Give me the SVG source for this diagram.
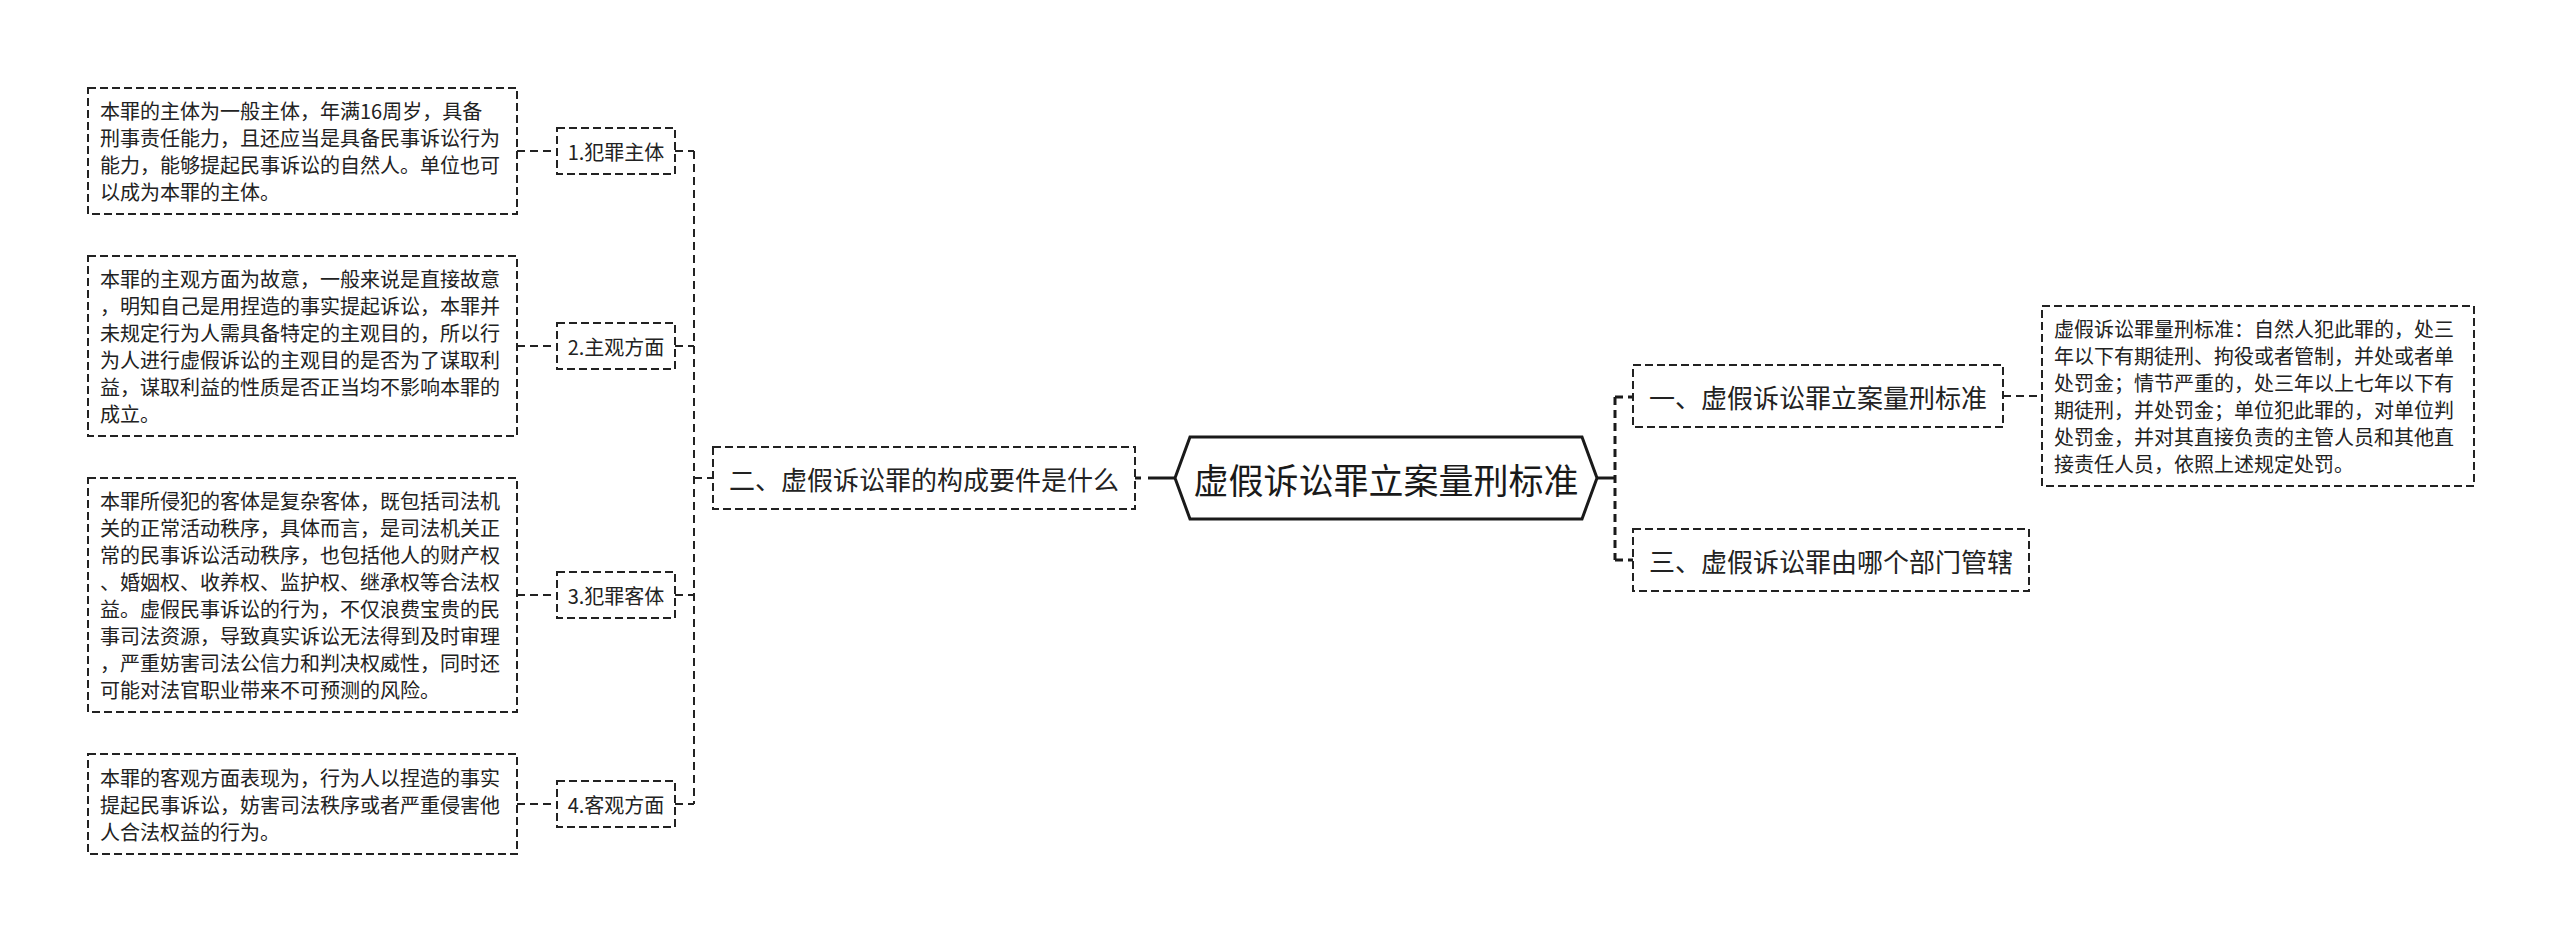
<svg xmlns="http://www.w3.org/2000/svg" width="2560" height="943" viewBox="0 0 2560 943">
<style>
  .bg { fill: #ffffff; }
  .box { fill: #ffffff; stroke: #222222; stroke-width: 2; stroke-dasharray: 8 4; }
  .root { fill: #ffffff; stroke: #1a1a1a; stroke-width: 3; stroke-linejoin: miter; }
  .t { font-family: "Microsoft YaHei", "Noto Sans CJK SC", "Noto Sans", sans-serif; fill: #222222; dominant-baseline: central; }
  .body { font-size: 20px; }
  .l2 { font-size: 20px; text-anchor: middle; }
  .l1 { font-size: 26px; text-anchor: middle; }
  .rt { font-size: 35px; text-anchor: middle; fill: #1a1a1a; }
  .c2 { fill: none; stroke: #222222; stroke-width: 2; stroke-dasharray: 8 5; }
  .c1 { fill: none; stroke: #1a1a1a; stroke-width: 3; stroke-dasharray: 8 5; }
  .c1s { fill: none; stroke: #1a1a1a; stroke-width: 3; }
</style>
<rect class="bg" x="0" y="0" width="2560" height="943"/>

<g id="connectors">
  <path class="c2" d="M517,151 H557"/>
  <path class="c2" d="M517,346 H557"/>
  <path class="c2" d="M517,595 H557"/>
  <path class="c2" d="M517,804 H557"/>
  <path class="c2" d="M675,151 H694"/>
  <path class="c2" d="M675,346 H694"/>
  <path class="c2" d="M675,595 H694"/>
  <path class="c2" d="M675,804 H694"/>
  <path class="c2" d="M694,151 V804"/>
  <path class="c2" d="M694,478 H713"/>
  <path class="c1" style="stroke-dasharray: 6 7 40" d="M1135,478 H1175"/>
  <path class="c1s" d="M1597,478 H1615"/>
  <path class="c1" d="M1615,397 V560"/>
  <path class="c1" d="M1615,397 H1633"/>
  <path class="c1" d="M1615,560 H1633"/>
  <path class="c2" d="M2003,396 H2042"/>
</g>

<g id="root">
  <polygon class="root" points="1175,478 1190,437 1582,437 1597,478 1582,519 1190,519"/>
  <text class="t rt" x="1386" y="478">虚假诉讼罪立案量刑标准</text>
</g>

<g id="n-er">
  <rect class="box" x="713" y="447" width="422" height="62"/>
  <text class="t l1" x="924" y="478">二、虚假诉讼罪的构成要件是什么</text>
</g>

<g id="n-yi">
  <rect class="box" x="1633" y="365" width="370" height="62"/>
  <text class="t l1" x="1818" y="396">一、虚假诉讼罪立案量刑标准</text>
</g>

<g id="n-san">
  <rect class="box" x="1633" y="529" width="396" height="62"/>
  <text class="t l1" x="1831" y="560">三、虚假诉讼罪由哪个部门管辖</text>
</g>

<g id="n-yi-detail">
  <rect class="box" x="2042" y="306" width="432" height="180"/>
  <text class="t body" x="2054" y="328.5">虚假诉讼罪量刑标准：自然人犯此罪的，处三</text>
  <text class="t body" x="2054" y="355.5">年以下有期徒刑、拘役或者管制，并处或者单</text>
  <text class="t body" x="2054" y="382.5">处罚金；情节严重的，处三年以上七年以下有</text>
  <text class="t body" x="2054" y="409.5">期徒刑，并处罚金；单位犯此罪的，对单位判</text>
  <text class="t body" x="2054" y="436.5">处罚金，并对其直接负责的主管人员和其他直</text>
  <text class="t body" x="2054" y="463.5">接责任人员，依照上述规定处罚。</text>
</g>

<g id="n-1">
  <rect class="box" x="557" y="128" width="118" height="46"/>
  <text class="t l2" x="616" y="151">1.犯罪主体</text>
</g>
<g id="n-1-detail">
  <rect class="box" x="88" y="88" width="429" height="126"/>
  <text class="t body" x="100" y="110.5">本罪的主体为一般主体，年满16周岁，具备</text>
  <text class="t body" x="100" y="137.5">刑事责任能力，且还应当是具备民事诉讼行为</text>
  <text class="t body" x="100" y="164.5">能力，能够提起民事诉讼的自然人。单位也可</text>
  <text class="t body" x="100" y="191.5">以成为本罪的主体。</text>
</g>

<g id="n-2">
  <rect class="box" x="557" y="323" width="118" height="46"/>
  <text class="t l2" x="616" y="346">2.主观方面</text>
</g>
<g id="n-2-detail">
  <rect class="box" x="88" y="256" width="429" height="180"/>
  <text class="t body" x="100" y="278.5">本罪的主观方面为故意，一般来说是直接故意</text>
  <text class="t body" x="100" y="305.5">，明知自己是用捏造的事实提起诉讼，本罪并</text>
  <text class="t body" x="100" y="332.5">未规定行为人需具备特定的主观目的，所以行</text>
  <text class="t body" x="100" y="359.5">为人进行虚假诉讼的主观目的是否为了谋取利</text>
  <text class="t body" x="100" y="386.5">益，谋取利益的性质是否正当均不影响本罪的</text>
  <text class="t body" x="100" y="413.5">成立。</text>
</g>

<g id="n-3">
  <rect class="box" x="557" y="572" width="118" height="46"/>
  <text class="t l2" x="616" y="595">3.犯罪客体</text>
</g>
<g id="n-3-detail">
  <rect class="box" x="88" y="478" width="429" height="234"/>
  <text class="t body" x="100" y="500.5">本罪所侵犯的客体是复杂客体，既包括司法机</text>
  <text class="t body" x="100" y="527.5">关的正常活动秩序，具体而言，是司法机关正</text>
  <text class="t body" x="100" y="554.5">常的民事诉讼活动秩序，也包括他人的财产权</text>
  <text class="t body" x="100" y="581.5">、婚姻权、收养权、监护权、继承权等合法权</text>
  <text class="t body" x="100" y="608.5">益。虚假民事诉讼的行为，不仅浪费宝贵的民</text>
  <text class="t body" x="100" y="635.5">事司法资源，导致真实诉讼无法得到及时审理</text>
  <text class="t body" x="100" y="662.5">，严重妨害司法公信力和判决权威性，同时还</text>
  <text class="t body" x="100" y="689.5">可能对法官职业带来不可预测的风险。</text>
</g>

<g id="n-4">
  <rect class="box" x="557" y="781" width="118" height="46"/>
  <text class="t l2" x="616" y="804">4.客观方面</text>
</g>
<g id="n-4-detail">
  <rect class="box" x="88" y="754" width="429" height="100"/>
  <text class="t body" x="100" y="777">本罪的客观方面表现为，行为人以捏造的事实</text>
  <text class="t body" x="100" y="804">提起民事诉讼，妨害司法秩序或者严重侵害他</text>
  <text class="t body" x="100" y="831">人合法权益的行为。</text>
</g>
</svg>
